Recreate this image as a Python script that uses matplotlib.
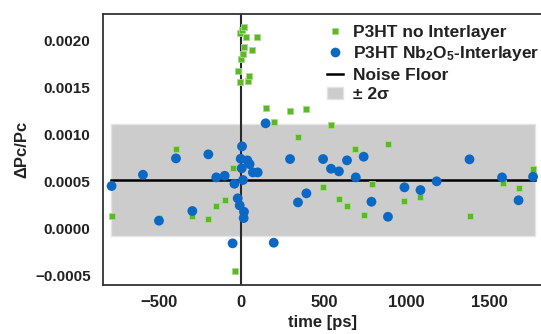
import matplotlib
matplotlib.use("Agg")
import matplotlib.pyplot as plt
from matplotlib.lines import Line2D
from matplotlib.patches import Patch

plt.rcParams['font.family'] = ['Liberation Sans', 'DejaVu Sans']
plt.rcParams['font.weight'] = 'bold'
plt.rcParams['mathtext.fontset'] = 'custom'
plt.rcParams['mathtext.rm'] = 'Liberation Sans:bold'
plt.rcParams['mathtext.it'] = 'Liberation Sans:bold'
plt.rcParams['mathtext.bf'] = 'Liberation Sans:bold'

# data
time_green = [-786, -499, -398, -299, -200, -152, -101, -53, -41, -22, -10, -8, -4, 2, 8, 14, 18,
              28, 38, 48, 67, 97, 147, 196, 295, 345, 394, 493, 543, 590, 641, 691, 741, 790,
              888, 985, 1085, 1382, 1582, 1679, 1767]
dpc_green = [0.000128, 0.000103, 0.000844, 0.000128, 0.000092, 0.000234, 0.000298, 0.000638,
             -0.000461, 0.001667, 0.002078, 0.001553, 0.001801, 0.002110, 0.001854, 0.002141,
             0.001925, 0.002035, 0.001564, 0.001614, 0.001894, 0.002035, 0.001277, 0.001131,
             0.001241, 0.000971, 0.001263, 0.000436, 0.001096, 0.000305, 0.000237, 0.000837,
             0.000138, 0.000465, 0.000894, 0.000284, 0.000327, 0.000131, 0.000482, 0.000422,
             0.000624]
time_blue = [-786, -596, -499, -396, -297, -200, -152, -101, -53, -42, -22, -10, -4, 2, 4, 10,
             14, 16, 36, 50, 70, 99, 147, 196, 295, 343, 394, 495, 543, 591, 640, 693, 741, 788,
             888, 988, 1085, 1183, 1382, 1579, 1679, 1767]
dpc_blue = [0.000447, 0.000567, 0.000078, 0.000741, 0.000181, 0.000784, 0.000539, 0.000556,
            -0.000163, 0.000471, 0.000316, 0.000241, 0.000737, 0.000635, 0.000869, 0.000511,
            0.000106, 0.000173, 0.000720, 0.000680, 0.000592, 0.000592, 0.001114, -0.000156,
            0.000734, 0.000273, 0.000369, 0.000734, 0.000631, 0.000603, 0.000720, 0.000539,
            0.000759, 0.000280, 0.000120, 0.000433, 0.000404, 0.000497, 0.000731, 0.000539,
            0.000295, 0.000546]
noise_floor = 0.00051
sigma = 0.0003
band_x = [-790, 1780]
x_ticks = [-500, 0, 500, 1000, 1500]
y_ticks = [-0.0005, 0.0, 0.0005, 0.0010, 0.0015, 0.0020]

green = '#5cb82a'
green_edge = '#a8dc88'
blue = '#0b68c4'

fig = plt.figure(figsize=(5.41, 3.34), dpi=100)
ax = fig.add_axes([103/541, 49/334, 1 - 103/541, (285 - 14)/334])

ax.fill_between(band_x, noise_floor - 2*sigma, noise_floor + 2*sigma,
                facecolor='#cccccc', edgecolor='#e4e4e4', linewidth=1, zorder=1)
ax.plot(band_x, [noise_floor, noise_floor], color='black', lw=1.8, zorder=2)
ax.axvline(0, color='#2a2a2a', lw=1.5, zorder=2)

ax.scatter(time_green, dpc_green, marker='s', s=21, color=green, edgecolors=green_edge,
           linewidths=0.6, zorder=3)
ax.scatter(time_blue, dpc_blue, marker='o', s=50, color=blue, edgecolors='none', zorder=4)

ax.set_xlim(-838, 1815)
ax.set_ylim(-0.000606, 0.002277)
ax.set_xticks(x_ticks)
ax.set_yticks(y_ticks)
ax.set_xticklabels([f"{t:d}".replace('-', '\u2212') for t in x_ticks], fontsize=12, fontweight='bold')
ax.set_yticklabels([f"{v:.4f}".replace('-', '\u2212') for v in y_ticks], fontsize=11, fontweight='bold')
ax.tick_params(axis='x', length=0, pad=7, colors='#222222')
ax.tick_params(axis='y', length=0, pad=9, colors='#222222')
ax.set_xlabel('time [ps]', fontsize=12, fontweight='bold', labelpad=4, color='#222222')
ax.set_ylabel('\u0394Pc/Pc', fontsize=12, fontweight='bold', labelpad=4, color='#222222')

for side in ['left', 'bottom', 'top']:
    ax.spines[side].set_color('#333333')
    ax.spines[side].set_linewidth(1.3)
ax.spines['right'].set_visible(False)

handles = [
    Line2D([], [], marker='s', linestyle='none', markersize=5, markerfacecolor=green,
           markeredgecolor=green_edge, markeredgewidth=0.6),
    Line2D([], [], marker='o', linestyle='none', markersize=7, markerfacecolor=blue,
           markeredgecolor='none'),
    Line2D([], [], color='black', lw=1.8),
    Patch(facecolor='#cccccc', edgecolor='#e4e4e4'),
]
labels = ['P3HT no Interlayer', 'P3HT Nb$_2$O$_5$-Interlayer', 'Noise Floor', '\u00b1 2\u03c3']
leg = fig.legend(handles, labels, loc='upper left', bbox_to_anchor=(327/541, 1 - 25/334),
                 bbox_transform=fig.transFigure, frameon=False, borderpad=0, borderaxespad=0,
                 handlelength=0.9, handletextpad=0.6, labelspacing=0.25,
                 prop={'size': 12.5, 'weight': 'bold'})
for t in leg.get_texts():
    t.set_color('#222222')

fig.savefig('out.png', dpi=100)
